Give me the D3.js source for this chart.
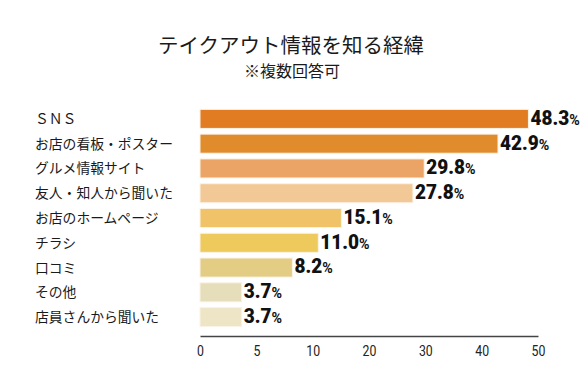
<!DOCTYPE html>
<html>
<head>
<meta charset="utf-8">
<script src="https://cdn.jsdelivr.net/npm/d3@7"></script>
<style>
  body { margin: 0; background: #fff; }
  svg { display: block; }
</style>
</head>
<body>
<script>
// data
var categories = ["ＳＮＳ", "お店の看板・ポスター", "グルメ情報サイト", "友人・知人から聞いた",
  "お店のホームページ", "チラシ", "口コミ", "その他", "店員さんから聞いた"];
var values = [48.3, 42.9, 29.8, 27.8, 15.1, 11.0, 8.2, 3.7, 3.7];
var barColors = ["#E27C22", "#E08C2C", "#EBA466", "#F3C897", "#F0C369",
  "#EEC95B", "#E3CC84", "#E6DDBA", "#EEE4C6"];
var tickValues = [0, 5, 10, 20, 30, 40, 50];

var width = 584, height = 387;
var left = 200, right = 538;

var svg = d3.select("body").append("svg")
  .attr("width", width)
  .attr("height", height);

var data = categories.map(function(c, i) {
  return {name: c, value: values[i], color: barColors[i]};
});

// uneven axis: ticks equally spaced
var step = (right - left) / (tickValues.length - 1);
var x = d3.scaleLinear()
  .domain(tickValues)
  .range(tickValues.map(function(d, i) { return left + i * step; }));

var y = d3.scaleBand()
  .domain(categories)
  .range([106.5, 329.5])
  .paddingInner(0.23)
  .paddingOuter(0.115);

var jp = "'Noto Sans CJK JP', 'Noto Sans', sans-serif";
var num = "Roboto, 'Liberation Sans', sans-serif";

//title
svg.append("text")
  .attr("x", 291)
  .attr("y", 53)
  .attr("text-anchor", "middle")
  .style("font-family", jp)
  .style("font-size", "20.5px")
  .style("fill", "#1a1a1a")
  .text("テイクアウト情報を知る経緯");

svg.append("text")
  .attr("x", 292)
  .attr("y", 77)
  .attr("text-anchor", "middle")
  .style("font-family", jp)
  .style("font-size", "16px")
  .style("fill", "#1a1a1a")
  .text("※複数回答可");

//category labels
svg.selectAll(".cat")
  .data(data)
  .enter().append("text")
  .attr("class", "cat")
  .attr("x", 35)
  .attr("y", function(d) { return y(d.name) + y.bandwidth() / 2; })
  .attr("dy", "0.36em")
  .style("font-family", jp)
  .style("font-size", "13.8px")
  .style("fill", "#1a1a1a")
  .text(function(d) { return d.name; });

//bars
svg.selectAll(".bar")
  .data(data)
  .enter().append("rect")
  .attr("class", "bar")
  .attr("x", x(0))
  .attr("y", function(d) { return y(d.name); })
  .attr("width", function(d) { return x(d.value) - x(0); })
  .attr("height", y.bandwidth())
  .style("fill", function(d) { return d.color; })
  .style("stroke", "#fbf3e6")
  .style("stroke-width", 1);

//value labels
var lab = svg.selectAll(".val")
  .data(data)
  .enter().append("text")
  .attr("class", "val")
  .attr("transform", function(d) {
    return "translate(" + (x(d.value) + 2) + "," + (y(d.name) + y.bandwidth() / 2) + ") scale(0.95,1)";
  })
  .attr("dy", "0.37em")
  .style("font-family", num)
  .style("font-weight", "900")
  .style("fill", "#111");
lab.append("tspan")
  .style("font-size", "20px")
  .text(function(d) { return d.value.toFixed(1); });
lab.append("tspan")
  .style("font-size", "15px")
  .style("font-weight", "700")
  .text("%");

//x axis
var xAxis = d3.axisBottom(x)
  .tickValues(tickValues)
  .tickSize(0)
  .tickPadding(9);

var gx = svg.append("g")
  .attr("transform", "translate(0,336)")
  .call(xAxis);
gx.select(".domain")
  .attr("stroke", "#444")
  .attr("stroke-width", 1.5);
gx.selectAll("text")
  .attr("transform", "scale(0.82,1)")
  .style("font-family", num)
  .style("font-size", "15px")
  .style("fill", "#222");
</script>
</body>
</html>
